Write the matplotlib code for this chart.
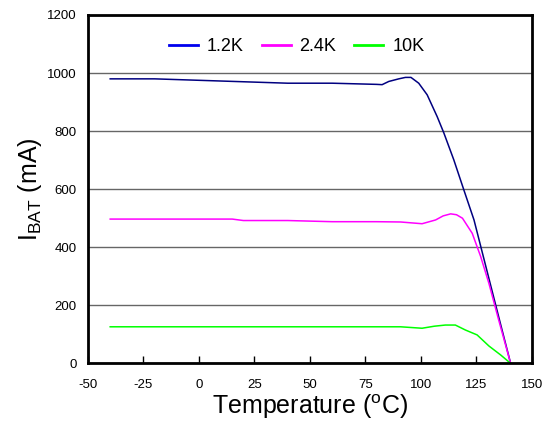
import matplotlib
matplotlib.use("Agg")
import matplotlib.pyplot as plt

plt.rcParams['font.family'] = ['Liberation Sans', 'DejaVu Sans']
plt.rcParams['mathtext.fontset'] = 'custom'
plt.rcParams['mathtext.rm'] = 'Liberation Sans'
plt.rcParams['mathtext.it'] = 'Liberation Sans'
plt.rcParams['axes.unicode_minus'] = False

# curves: temperature (C) -> I_BAT (mA)
t_12k = [-40, -20, 0, 20, 40, 60, 80, 82.5, 85.5, 90, 93, 95.5, 99, 102.8, 107.3, 110.3, 114.8, 119.3, 123.9, 130, 135, 140.4]
i_12k = [980, 980, 975, 970, 965, 965, 961, 960, 971, 980, 985, 985, 965, 925, 850, 794, 701, 598, 494, 311, 161, 0]

t_24k = [-40, -20, 0, 15, 20, 40, 60, 80, 90.8, 100.5, 106.6, 110, 113.4, 116, 118.7, 123.1, 126.9, 130.6, 135, 140.4]
i_24k = [497, 497, 497, 497, 492, 492, 488, 488, 487, 481, 494, 508, 515, 512, 500, 448, 368, 276, 150, 0]

t_10k = [-40, -20, 0, 20, 40, 60, 80, 90.8, 100.5, 106, 111, 115.5, 120, 125.3, 130.6, 135.9, 140.4]
i_10k = [126, 126, 126, 126, 126, 126, 126, 126, 121, 128, 132, 132, 115, 98, 60, 29, 0]

x_ticks = [-50, -25, 0, 25, 50, 75, 100, 125, 150]
y_ticks = [0, 200, 400, 600, 800, 1000, 1200]

fig = plt.figure(figsize=(5.57, 4.28), dpi=100)
ax = fig.add_axes([0.158, 0.151, 0.797, 0.814])

ax.plot(t_12k, i_12k, color='#000080', lw=1.1, label='1.2K')
ax.plot(t_24k, i_24k, color='#ff00ff', lw=1.1, label='2.4K')
ax.plot(t_10k, i_10k, color='#00ff00', lw=1.1, label='10K')

ax.set_xlim(-50, 150)
ax.set_ylim(0, 1200)
ax.set_xticks(x_ticks)
ax.set_yticks(y_ticks)
ax.tick_params(axis='x', direction='in', length=5, width=1, labelsize=9.5, pad=11)
ax.tick_params(axis='y', length=0, labelsize=9.5, pad=8)
ax.yaxis.grid(True, color='#666666', lw=1)
ax.set_axisbelow(True)

for s in ax.spines.values():
    s.set_linewidth(2)

ax.set_xlabel(r'Temperature ($^{\rm o}$C)', fontsize=18, labelpad=1)
ax.set_ylabel(r'I$_{\rm BAT}$ (mA)', fontsize=18, labelpad=2)

leg = ax.legend(loc='upper center', ncol=3, frameon=False, fontsize=13,
                handlelength=1.6, columnspacing=1.0, handletextpad=0.5,
                bbox_to_anchor=(0.47, 0.98))
for h in leg.get_lines():
    h.set_linewidth(2)
leg.get_lines()[0].set_color('#0000ee')

fig.savefig('out.png', dpi=100)
